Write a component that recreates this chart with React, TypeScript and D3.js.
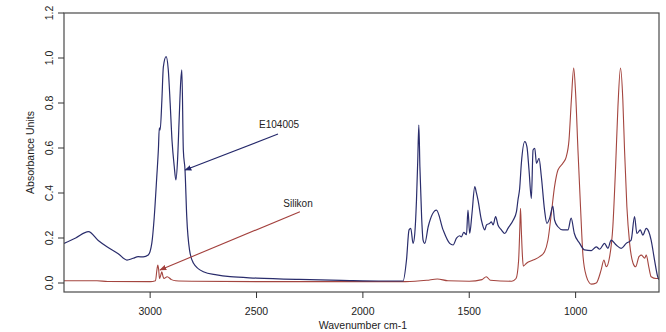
import React, { useEffect, useRef } from "react";
import * as d3 from "d3";

// spectra: [wavenumber, absorbance]
const e104005: [number, number][] = [
  [3405, 0.176], [3350, 0.2], [3290, 0.228], [3244, 0.189], [3203, 0.161], [3150, 0.13],
  [3109, 0.102], [3080, 0.11], [3056, 0.117], [3033, 0.116], [3009, 0.124], [2992, 0.178],
  [2981, 0.29], [2969, 0.47], [2961, 0.6], [2957, 0.69], [2953, 0.68], [2945, 0.81],
  [2938, 0.96], [2925, 1.006], [2915, 0.95], [2906, 0.8], [2897, 0.63], [2887, 0.52],
  [2879, 0.458], [2871, 0.55], [2864, 0.72], [2856, 0.9], [2851, 0.947], [2844, 0.59],
  [2836, 0.5], [2828, 0.295], [2815, 0.147], [2797, 0.089], [2750, 0.05], [2687, 0.036],
  [2624, 0.028], [2500, 0.022], [2300, 0.016], [2100, 0.012], [1900, 0.009], [1811, 0.009],
  [1795, 0.102], [1783, 0.236], [1775, 0.243], [1764, 0.176], [1756, 0.22], [1748, 0.369],
  [1742, 0.547], [1737, 0.702], [1732, 0.517], [1724, 0.295], [1717, 0.191], [1709, 0.176],
  [1693, 0.25], [1654, 0.324], [1623, 0.236], [1592, 0.176], [1576, 0.169], [1560, 0.199],
  [1545, 0.21], [1537, 0.205], [1526, 0.225], [1513, 0.215], [1506, 0.324], [1498, 0.22],
  [1487, 0.31], [1474, 0.428], [1466, 0.399], [1459, 0.369], [1443, 0.28], [1427, 0.236],
  [1419, 0.258], [1404, 0.265], [1396, 0.272], [1388, 0.258], [1376, 0.295], [1365, 0.258],
  [1349, 0.236], [1333, 0.22], [1318, 0.243], [1293, 0.28], [1278, 0.317], [1271, 0.369],
  [1263, 0.42], [1255, 0.532], [1239, 0.628], [1229, 0.606], [1219, 0.502], [1208, 0.376],
  [1200, 0.591], [1192, 0.599], [1184, 0.532], [1172, 0.554], [1161, 0.472], [1146, 0.324],
  [1135, 0.265], [1122, 0.288], [1107, 0.342], [1099, 0.28], [1083, 0.25], [1060, 0.236],
  [1036, 0.236], [1021, 0.288], [1006, 0.22], [981, 0.176], [958, 0.147], [926, 0.144],
  [903, 0.161], [887, 0.15], [864, 0.176], [848, 0.154], [833, 0.191], [809, 0.169],
  [786, 0.154], [762, 0.176], [739, 0.191], [723, 0.295], [712, 0.22], [696, 0.236],
  [684, 0.213], [668, 0.243], [656, 0.228], [645, 0.191], [629, 0.102], [614, 0.028], [608, 0.015],
];

const silikon: [number, number][] = [
  [3405, 0.01], [3250, 0.01], [3200, 0.007], [3000, 0.006], [2975, 0.01], [2968, 0.06],
  [2964, 0.08], [2960, 0.06], [2956, 0.02], [2950, 0.035], [2945, 0.05], [2940, 0.03],
  [2935, 0.02], [2920, 0.028], [2900, 0.015], [2880, 0.01], [2800, 0.008], [2500, 0.006],
  [2000, 0.006], [1800, 0.006], [1700, 0.012], [1650, 0.018], [1600, 0.01], [1500, 0.008],
  [1440, 0.015], [1420, 0.028], [1400, 0.012], [1300, 0.008], [1280, 0.02], [1268, 0.1],
  [1262, 0.25], [1259, 0.332], [1255, 0.23], [1250, 0.12], [1246, 0.075], [1231, 0.088],
  [1200, 0.102], [1169, 0.117], [1146, 0.139], [1130, 0.191], [1114, 0.31], [1099, 0.428],
  [1083, 0.502], [1060, 0.532], [1044, 0.561], [1031, 0.636], [1020, 0.813], [1009, 0.955],
  [1000, 0.843], [989, 0.591], [977, 0.339], [965, 0.117], [949, 0.028], [935, 0.0],
  [926, -0.005], [903, 0.0], [880, 0.058], [867, 0.102], [856, 0.072], [840, 0.117],
  [825, 0.25], [812, 0.517], [801, 0.784], [789, 0.955], [778, 0.813], [770, 0.591],
  [759, 0.339], [746, 0.176], [730, 0.088], [718, 0.072], [702, 0.117], [691, 0.124],
  [675, 0.11], [668, 0.124], [656, 0.072], [645, 0.028], [621, 0.02], [608, 0.02],
];

const xTicks = [3000, 2500, 2000, 1500, 1000];
const yTicks = [0, 0.2, 0.4, 0.6, 0.8, 1.0, 1.2];
const yTickLabels = ["0.0", "0.2", "C.4", "0.6", "0.8", "1.0", "1.2"];

// annotations: label position, arrow tail, arrow tip, all as [wavenumber, absorbance]
const notes = [
  { label: "E104005", at: [2394, 0.69], from: [2399, 0.662], to: [2836, 0.502], color: "#24286a" },
  { label: "Silikon", at: [2305, 0.34], from: [2296, 0.317], to: [2954, 0.058], color: "#a3403d" },
];

const blueColor = "#2a2d6c";
const redColor = "#a4453f";
const font = "'Liberation Sans', Arial, sans-serif";

export default function App() {
  const ref = useRef<SVGSVGElement>(null);

  useEffect(() => {
    const svg = d3.select(ref.current);
    svg.selectAll("*").remove();

    const left = 64, right = 659, top = 13, bottom = 292;
    const x = d3.scaleLinear().domain([3405, 608]).range([left, right]);
    const y = d3.scaleLinear().domain([-0.04, 1.2]).range([bottom, top]);

    const defs = svg.append("defs");
    notes.forEach((n, i) => {
      defs.append("marker")
        .attr("id", "head" + i)
        .attr("viewBox", "0 0 10 10")
        .attr("refX", 9).attr("refY", 5)
        .attr("markerWidth", 7).attr("markerHeight", 7)
        .attr("markerUnits", "userSpaceOnUse")
        .attr("orient", "auto")
        .append("path")
        .attr("d", "M0,1 L10,5 L0,9 Z")
        .attr("fill", n.color);
    });

    const line = d3.line<[number, number]>()
      .x(d => x(d[0]))
      .y(d => y(d[1]))
      .curve(d3.curveMonotoneX);

    const clip = defs.append("clipPath").attr("id", "plotclip");
    clip.append("rect").attr("x", left).attr("y", top).attr("width", right - left).attr("height", bottom - top);

    const plot = svg.append("g").attr("clip-path", "url(#plotclip)");
    plot.append("path").attr("d", line(silikon)).attr("fill", "none")
      .attr("stroke", redColor).attr("stroke-width", 1.1);
    plot.append("path").attr("d", line(e104005)).attr("fill", "none")
      .attr("stroke", blueColor).attr("stroke-width", 1.2);

    // frame
    svg.append("rect")
      .attr("x", left).attr("y", top).attr("width", right - left).attr("height", bottom - top)
      .attr("fill", "none").attr("stroke", "#4a4a4a").attr("stroke-width", 1.2);

    // x axis
    const xg = svg.append("g");
    xTicks.forEach(t => {
      xg.append("line").attr("x1", x(t)).attr("x2", x(t)).attr("y1", bottom).attr("y2", bottom + 6)
        .attr("stroke", "#333").attr("stroke-width", 1);
      xg.append("text").attr("x", x(t)).attr("y", 315).attr("text-anchor", "middle")
        .attr("font-family", font).attr("font-size", 10.5).attr("fill", "#222").text(t);
    });
    svg.append("text").attr("x", x(2000)).attr("y", 329).attr("text-anchor", "middle")
      .attr("font-family", font).attr("font-size", 10.5).attr("fill", "#222").text("Wavenumber cm-1");

    // y axis
    const yg = svg.append("g");
    yTicks.forEach((t, i) => {
      yg.append("line").attr("x1", left - 6).attr("x2", left).attr("y1", y(t)).attr("y2", y(t))
        .attr("stroke", "#333").attr("stroke-width", 1);
      yg.append("text").attr("transform", `translate(52.5,${y(t)}) rotate(-90)`)
        .attr("text-anchor", "middle").attr("font-family", font).attr("font-size", 10.5)
        .attr("fill", "#222").text(yTickLabels[i]);
    });
    svg.append("text").attr("transform", `translate(34,${(top + bottom) / 2}) rotate(-90)`)
      .attr("text-anchor", "middle").attr("font-family", font).attr("font-size", 10.5)
      .attr("fill", "#222").text("Absorbance Units");

    // labels with arrows
    notes.forEach((n, i) => {
      svg.append("text").attr("x", x(n.at[0])).attr("y", y(n.at[1])).attr("text-anchor", "middle")
        .attr("font-family", font).attr("font-size", 10).attr("fill", "#222").text(n.label);
      svg.append("line")
        .attr("x1", x(n.from[0])).attr("y1", y(n.from[1]))
        .attr("x2", x(n.to[0])).attr("y2", y(n.to[1]))
        .attr("stroke", n.color).attr("stroke-width", 1.1)
        .attr("marker-end", `url(#head${i})`);
    });
  }, []);

  return (
    <svg ref={ref} width={666} height={332}
      style={{ position: "absolute", left: 0, top: 0, background: "#fff" }} />
  );
}
